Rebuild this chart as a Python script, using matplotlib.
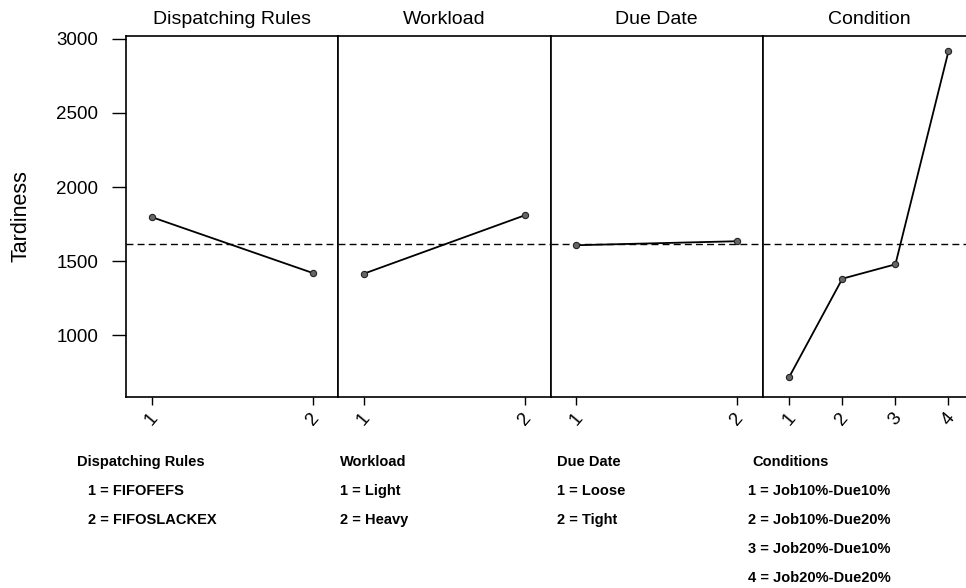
import matplotlib
matplotlib.use("Agg")
import matplotlib.pyplot as plt

plt.rcParams["font.family"] = ["Liberation Sans", "DejaVu Sans"]

# Factor main effects on tardiness
panel_titles = ["Dispatching Rules", "Workload", "Due Date", "Condition"]
levels_rules = [1, 2]
tard_rules = [1797, 1420]
levels_workload = [1, 2]
tard_workload = [1415, 1809]
levels_due = [1, 2]
tard_due = [1607, 1634]
levels_cond = [1, 2, 3, 4]
tard_cond = [718, 1381, 1478, 2917]
grand_mean = 1615

# Level key printed under the chart
key_titles = ["Dispatching Rules", "Workload", "Due Date", "Conditions"]
key_rules = ["1 = FIFOFEFS", "2 = FIFOSLACKEX"]
key_workload = ["1 = Light", "2 = Heavy"]
key_due = ["1 = Loose", "2 = Tight"]
key_cond = ["1 = Job10%-Due10%", "2 = Job10%-Due20%",
            "3 = Job20%-Due10%", "4 = Job20%-Due20%"]

W, H = 966, 588
fig = plt.figure(figsize=(W / 100, H / 100), dpi=100)

left, right = 126 / W, 975 / W
top, bottom = 1 - 36 / H, 1 - 397 / H
gs = fig.add_gridspec(1, 4, left=left, right=right, top=top, bottom=bottom, wspace=0)

series = [
    (levels_rules, tard_rules),
    (levels_workload, tard_workload),
    (levels_due, tard_due),
    (levels_cond, tard_cond),
]

axes = []
for i, (title, (lv, vals)) in enumerate(zip(panel_titles, series)):
    ax = fig.add_subplot(gs[0, i], sharey=axes[0] if axes else None)
    axes.append(ax)
    ax.axhline(grand_mean, color="black", lw=1.0, ls=(0, (5, 3)), zorder=1)
    ax.plot(lv, vals, color="black", lw=1.3, marker="o", ms=4.5,
            mfc="#666666", mec="#222222", mew=0.8, zorder=3)
    if len(lv) == 2:
        ax.set_xlim(0.84, 2.16)
    else:
        ax.set_xlim(0.5, 4.5)
    ax.set_xticks(lv)
    ax.set_xticklabels([str(v) for v in lv], rotation=50, fontsize=13.5,
                       ha="center", va="top")
    ax.tick_params(axis="x", direction="out", length=6, width=1.0, pad=3)
    ax.set_title(title, fontsize=14, pad=9)
    for sp in ax.spines.values():
        sp.set_linewidth(1.2)
        sp.set_color("black")
    if i == 0:
        ax.set_yticks([1000, 1500, 2000, 2500, 3000])
        ax.tick_params(axis="y", direction="out", length=10, width=1.0,
                       labelsize=13.5, pad=10)
        ax.set_ylabel("Tardiness", fontsize=15.5, labelpad=18)
    else:
        ax.tick_params(axis="y", left=False, labelleft=False)

axes[0].set_ylim(582, 3020)

# Level key below the panels
key_cols = [
    (77, 88, key_titles[0], key_rules),
    (340, 340, key_titles[1], key_workload),
    (557, 557, key_titles[2], key_due),
    (752, 748, key_titles[3], key_cond),
]
for hx, ix, head, items in key_cols:
    fig.text(hx / W, 1 - 462 / H, head, fontsize=10.5, fontweight="bold",
             ha="left", va="center")
    for j, item in enumerate(items):
        y = 491 + 29 * j
        fig.text(ix / W, 1 - y / H, item, fontsize=10.5, fontweight="bold",
                 ha="left", va="center")

fig.savefig("out.png", dpi=100)
